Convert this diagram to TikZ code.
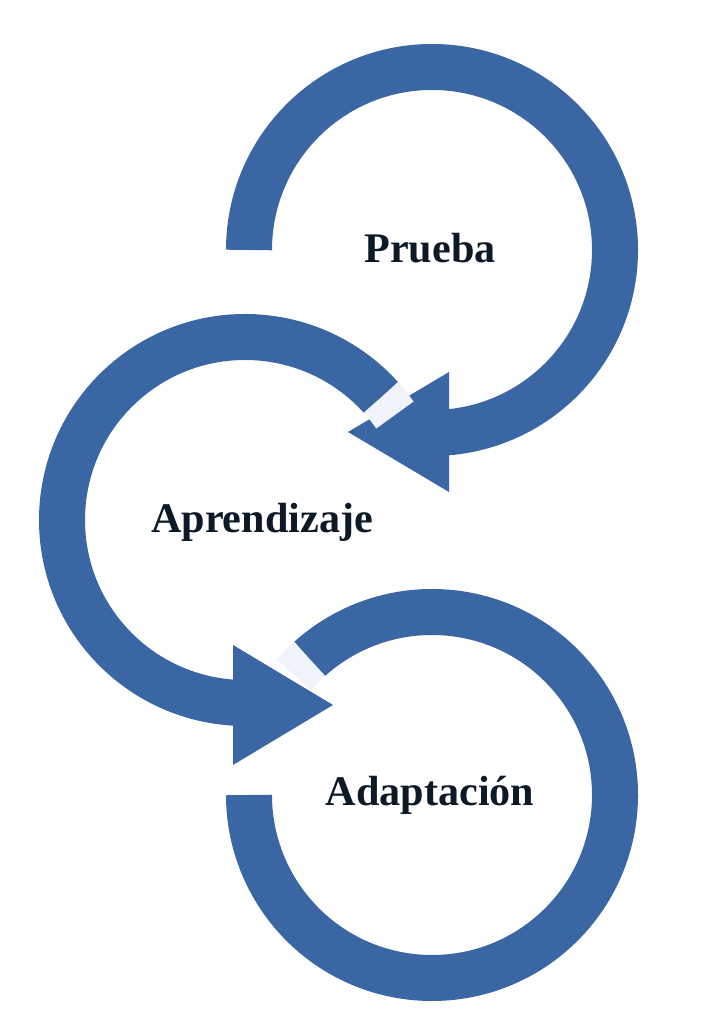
\documentclass[tikz,border=0pt]{standalone}
\usepackage{fontspec}
\setmainfont{Liberation Serif}
\definecolor{loopblue}{RGB}{58, 103, 163}
\definecolor{gapblue}{RGB}{240, 243, 249}
\definecolor{labelnavy}{RGB}{13, 25, 38}
\tikzset{
  ring/.style={draw=loopblue, line width=1.38cm},
  gap/.style={draw=gapblue, line width=1.38cm},
  tip/.style={fill=loopblue},
  lbl/.style={text=labelnavy, font=\fontsize{36}{40}\selectfont\bfseries}
}
\begin{document}
\begin{tikzpicture}[x=0.03cm, y=0.03cm]
        \useasboundingbox (0,0) rectangle (707,1024);

        % Top loop
        \coordinate (topc) at (432,774);
        \draw[ring] (topc) ++(180:5.49cm) arc[start angle=180, end angle=-88, radius=5.49cm];
        \fill[tip] (348,592) -- (449,652) -- (449,532) -- cycle;
        \node[lbl] (prueba) at (430,776) {Prueba};

        % Middle loop
        \coordinate (midc) at (245,504);
        \draw[ring] (midc) ++(42:5.49cm) arc[start angle=42, end angle=270, radius=5.49cm];
        \draw[gap] (midc) ++(35:5.49cm) arc[start angle=35, end angle=42, radius=5.49cm];
        \fill[tip] (333,319) -- (233,379) -- (233,259) -- cycle;
        \node[lbl] (aprend) at (262,502) {Aprendizaje};

        % Bottom loop
        \coordinate (botc) at (432,229);
        \draw[ring] (botc) ++(132:5.49cm) arc[start angle=132, end angle=-180, radius=5.49cm];
        \draw[gap] (botc) ++(139:5.49cm) arc[start angle=139, end angle=132, radius=5.49cm];
        \node[lbl] (adapt) at (430,229) {Adaptación};
    \end{tikzpicture}
\end{document}
